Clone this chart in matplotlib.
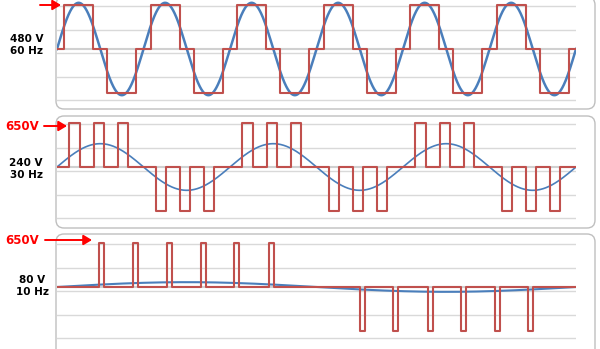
"""
Inverter output waveforms: six-step at 60 Hz vs. PWM pulse trains at 30 Hz and 10 Hz.
"""
import numpy as np
import matplotlib.pyplot as plt
from matplotlib.patches import FancyBboxPatch

# ---- data (angles in degrees inside one cycle, levels in units of the 650 V bus) ----
p1_label = '480 V\n60 Hz'
p1_cycles = 6
p1_pos = [(30, 150)]
p1_neg = [(210, 330)]
p1_sine_amp = 1.05

p2_label = '240 V\n30 Hz'
p2_cycles = 3
p2_pos = [(26, 48), (77, 98), (127, 148)]
p2_neg = [(206, 227), (256, 276), (305, 326)]
p2_sine_amp = 0.53

p3_label = '80 V\n10 Hz'
p3_cycles = 1
p3_pos = [(29, 32.5), (53, 56.5), (76, 79.5), (100, 103.5), (123, 126.5), (147, 150.5)]
p3_neg = [(210, 213.5), (233, 236.5), (257, 260.5), (280, 283.5), (304, 307.5), (327, 330.5)]
p3_sine_amp = 0.11

grid_vals = [0.977, 0.443, -0.091, -0.625, -1.159]

RED = '#c0504d'
BLUE = '#4a7ebb'
GRID = '#d9d9d9'
BOX = '#bfbfbf'

W, H = 600, 349
UNIT = 44  # pixels per bus level
PLOT_X0, PLOT_X1 = 57, 576


def pulse_wave(pos, neg, cycles):
    xs, ys = [0], [0]
    for c in range(cycles):
        off = 360 * c
        pulses = sorted([(p, 1) for p in pos] + [(p, -1) for p in neg])
        for (a, b), lv in pulses:
            xs += [off + a, off + a, off + b, off + b]
            ys += [0, lv, lv, 0]
    xs.append(360 * cycles)
    ys.append(0)
    return xs, ys


fig = plt.figure(figsize=(W / 100, H / 100), dpi=100)

# background axes in pixel coords for the rounded panel frames
bg = fig.add_axes([0, 0, 1, 1], zorder=0)
bg.set_xlim(0, W)
bg.set_ylim(H, 0)
bg.axis('off')

# panels: (top px, bottom px, centre px, box top, box bottom)
panels = [
    (0, 108, 49, -3, 109, p1_pos, p1_neg, p1_cycles, p1_sine_amp, 1.8),
    (116, 228, 167, 116, 228, p2_pos, p2_neg, p2_cycles, p2_sine_amp, 1.2),
    (234, 349, 287, 234, 362, p3_pos, p3_neg, p3_cycles, p3_sine_amp, 1.5),
]

for top, bot, ctr, btop, bbot, pos, neg, cycles, amp, blw in panels:
    bg.add_patch(FancyBboxPatch((56, btop), 595 - 56, bbot - btop,
                                boxstyle='round,pad=0,rounding_size=8',
                                facecolor='white', edgecolor=BOX, linewidth=1))

    ax = fig.add_axes([PLOT_X0 / W, 1 - bot / H, (PLOT_X1 - PLOT_X0) / W, (bot - top) / H],
                      zorder=2)
    ax.patch.set_alpha(0)
    xs, ys = pulse_wave(pos, neg, cycles)
    t = np.linspace(0, 360 * cycles, 2000)
    ax.axhline(0, color='#d0d0d0', lw=1.5, zorder=1)
    ax.plot(t, amp * np.sin(np.radians(t)), color=BLUE, lw=blw, zorder=3)
    ax.plot(xs, ys, color=RED, lw=1.5, zorder=4)
    ax.set_xlim(0, 360 * cycles)
    ax.set_ylim(-(bot - ctr) / UNIT, (ctr - top) / UNIT)
    ax.set_yticks(grid_vals)
    ax.set_xticks([])
    ax.grid(axis='y', color=GRID, lw=1)
    ax.tick_params(length=0, labelleft=False)
    for s in ax.spines.values():
        s.set_visible(False)

# foreground axes for labels and arrows
fg = fig.add_axes([0, 0, 1, 1], zorder=5)
fg.set_xlim(0, W)
fg.set_ylim(H, 0)
fg.axis('off')

fg.text(27, 45, p1_label, ha='center', va='center', fontsize=7.5,
        fontweight='bold', linespacing=1.25)
fg.text(26, 169, p2_label, ha='center', va='center', fontsize=7.5,
        fontweight='bold', linespacing=1.25)
fg.text(32, 286, p3_label, ha='center', va='center', fontsize=7.5,
        fontweight='bold', linespacing=1.25)

fg.text(22, 126, '650V', ha='center', va='center', fontsize=8.5,
        fontweight='bold', color='red')
fg.text(22, 240, '650V', ha='center', va='center', fontsize=8.5,
        fontweight='bold', color='red')

arrow = dict(arrowstyle='-|>,head_length=0.5,head_width=0.3', color='red',
             lw=1.4, mutation_scale=10, shrinkA=0, shrinkB=0)
fg.annotate('', xy=(61, 5), xytext=(40, 5), arrowprops=arrow)
fg.annotate('', xy=(67, 126), xytext=(44, 126), arrowprops=arrow)
fg.annotate('', xy=(92, 240), xytext=(45, 240), arrowprops=arrow)

fig.savefig('out.png', dpi=100, facecolor='white')
